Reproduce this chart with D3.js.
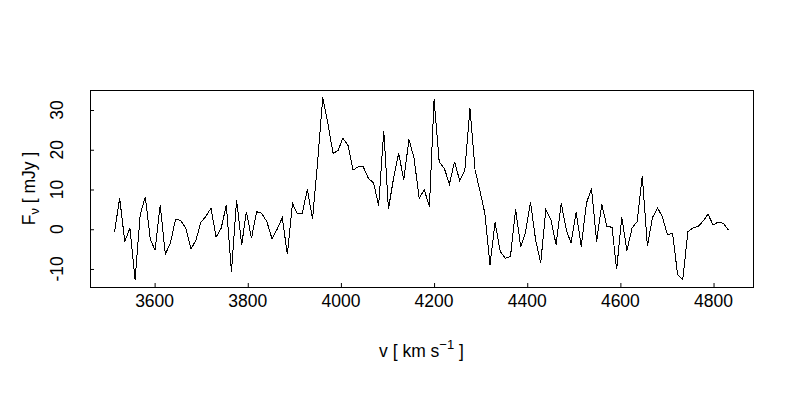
<!DOCTYPE html>
<html>
<head>
<meta charset="utf-8">
<script src="https://cdn.jsdelivr.net/npm/d3@7"></script>
<style>
  body { margin: 0; background: #fff; }
  text { font-family: "Liberation Sans", Arial, sans-serif; fill: #000; }
</style>
</head>
<body>
<svg id="drawing_region"></svg>
<script>
// channel velocities (km/s)
const velocity = [
    3514, 3525, 3536, 3547, 3558, 3569, 3580, 3591, 3601, 3612,
    3623, 3634, 3645, 3656, 3667, 3678, 3689, 3699, 3710, 3721,
    3732, 3743, 3754, 3765, 3776, 3787, 3797, 3808, 3819, 3830,
    3841, 3852, 3863, 3874, 3885, 3896, 3906, 3917, 3928, 3939,
    3950, 3961, 3972, 3983, 3994, 4004, 4015, 4026, 4037, 4048,
    4059, 4070, 4081, 4092, 4102, 4113, 4124, 4135, 4146, 4157,
    4168, 4179, 4190, 4200, 4211, 4222, 4233, 4244, 4255, 4266,
    4277, 4288, 4298, 4309, 4320, 4331, 4342, 4353, 4364, 4375,
    4386, 4396, 4407, 4418, 4429, 4440, 4451, 4462, 4473, 4484,
    4494, 4505, 4516, 4527, 4538, 4549, 4560, 4571, 4582, 4592,
    4603, 4614, 4625, 4636, 4647, 4658, 4669, 4680, 4690, 4701,
    4712, 4723, 4734, 4745, 4756, 4767, 4778, 4788, 4799, 4810,
    4821, 4832
];

// flux density (mJy)
const flux = [
    -0.6, 7.8, -3.1, 0.3, -12.7, 3.6, 8.2, -2.7, -5.2, 6.1,
    -6.3, -3.4, 2.5, 2.2, 0.3, -5.0, -2.7, 1.7, 3.2, 5.3,
    -2.0, 0.3, 6.1, -10.7, 7.4, -3.9, 4.4, -2.3, 4.4, 4.0,
    1.9, -2.4, 0.0, 2.9, -6.3, 6.5, 4.0, 4.0, 10.1, 2.5,
    17.0, 33.2, 26.7, 19.1, 19.8, 22.9, 21.2, 14.9, 15.7, 15.7,
    12.8, 11.7, 5.9, 24.8, 5.1, 12.8, 19.1, 12.4, 22.6, 17.9,
    7.8, 9.9, 5.7, 32.7, 17.0, 15.3, 11.4, 17.0, 12.2, 14.9,
    30.4, 14.9, 9.9, 4.0, -9.0, 1.7, -5.6, -7.3, -6.9, 5.0,
    -4.4, -1.0, 6.8, -2.7, -8.5, 5.0, 2.3, -3.9, 6.5, -0.2,
    -3.5, 4.4, -4.4, 6.5, 10.3, -3.1, 6.3, 0.7, 0.5, -10.1,
    3.0, -5.4, 0.3, 1.9, 13.4, -4.2, 3.0, 5.3, 3.2, -1.4,
    -1.0, -11.5, -12.6, -0.6, 0.3, 0.7, 2.1, 3.8, 1.1, 1.8,
    1.5, -0.2
];

const x_ticks = [3600, 3800, 4000, 4200, 4400, 4600, 4800];
const y_ticks = [-10, 0, 10, 20, 30];

const data = velocity.map( (v, i) => ({ x: v, y: flux[i] }) );

class SpectrumChart {

    constructor( config, data ) {
        this.config = config;
        this.data = data;
        this.init();
    }

    init() {
        let self = this;
        const m = self.config.margin;

        self.svg = d3.select( self.config.parent )
            .attr('width', self.config.width)
            .attr('height', self.config.height);

        self.svg.append('rect')
            .attr('width', self.config.width)
            .attr('height', self.config.height)
            .attr('fill', '#fff');

        self.left = m.left;
        self.right = self.config.width - m.right;
        self.top = m.top;
        self.bottom = self.config.height - m.bottom;

        self.xscale = d3.scaleLinear()
            .range( [self.left, self.right] );

        self.yscale = d3.scaleLinear()
            .range( [self.bottom, self.top] );

        self.xaxis = d3.axisBottom( self.xscale )
            .tickValues( x_ticks )
            .tickSize( -4 )
            .tickFormat( '' );

        self.yaxis = d3.axisLeft( self.yscale )
            .tickValues( y_ticks )
            .tickSize( -4 )
            .tickFormat( '' );
    }

    update() {
        let self = this;

        // R style 4% padding around the data range
        const xmin = d3.min( self.data, d => d.x );
        const xmax = d3.max( self.data, d => d.x );
        const xpad = (xmax - xmin) * 0.04;
        self.xscale.domain( [xmin - xpad, xmax + xpad] );

        const ymin = d3.min( self.data, d => d.y );
        const ymax = d3.max( self.data, d => d.y );
        const ypad = (ymax - ymin) * 0.04;
        self.yscale.domain( [ymin - ypad, ymax + ypad] );

        self.render();
    }

    render() {
        let self = this;

        self.line = d3.line()
            .x( d => self.xscale( d.x ) )
            .y( d => self.yscale( d.y ) );

        self.svg.append('path')
            .attr('d', self.line( self.data ))
            .attr('stroke', 'black')
            .attr('stroke-width', 1)
            .attr('shape-rendering', 'crispEdges')
            .attr('fill', 'none');

        self.svg.append('rect')
            .attr('x', self.left + 0.5)
            .attr('y', self.top + 0.5)
            .attr('width', self.right - self.left)
            .attr('height', self.bottom - self.top)
            .attr('fill', 'none')
            .attr('stroke', 'black');

        self.svg.append('g')
            .attr('transform', `translate(0, ${self.bottom})`)
            .call( self.xaxis )
            .call( g => g.select('.domain').remove() )
            .selectAll('line').attr('stroke', 'black');

        self.svg.append('g')
            .attr('transform', `translate(${self.left}, 0)`)
            .call( self.yaxis )
            .call( g => g.select('.domain').remove() )
            .selectAll('line').attr('stroke', 'black');

        self.svg.selectAll('.xlabel')
            .data( x_ticks )
            .enter()
            .append('text')
            .attr('class', 'xlabel')
            .attr('x', d => self.xscale( d ))
            .attr('y', self.bottom + 20)
            .attr('text-anchor', 'middle')
            .attr('font-size', 17.5)
            .text( d => d );

        self.svg.selectAll('.ylabel')
            .data( y_ticks )
            .enter()
            .append('text')
            .attr('class', 'ylabel')
            .attr('transform', d => `translate(${self.left - 27}, ${self.yscale( d )}) rotate(-90)`)
            .attr('text-anchor', 'middle')
            .attr('font-size', 17.5)
            .text( d => d );

        const xtitle = self.svg.append('text')
            .attr('x', (self.left + self.right) / 2)
            .attr('y', self.bottom + 70)
            .attr('text-anchor', 'middle')
            .attr('font-size', 17.5);
        xtitle.append('tspan').text('v [ km s');
        xtitle.append('tspan').attr('font-size', 13).attr('dy', -8).text('\u22121');
        xtitle.append('tspan').attr('dy', 8).text(' ]');

        const ytitle = self.svg.append('text')
            .attr('transform', `translate(${self.left - 55}, ${(self.top + self.bottom) / 2}) rotate(-90)`)
            .attr('text-anchor', 'middle')
            .attr('font-size', 17.5);
        ytitle.append('tspan').text('F');
        ytitle.append('tspan').attr('font-size', 13).attr('dy', 4).text('\u03bd');
        ytitle.append('tspan').attr('dy', -4).text(' [ mJy ]');
    }
}

var config = {
    parent: '#drawing_region',
    width: 800,
    height: 400,
    margin: {top: 90, right: 47, bottom: 113, left: 90}
};

const spectrum_chart = new SpectrumChart( config, data );
spectrum_chart.update();
</script>
</body>
</html>
